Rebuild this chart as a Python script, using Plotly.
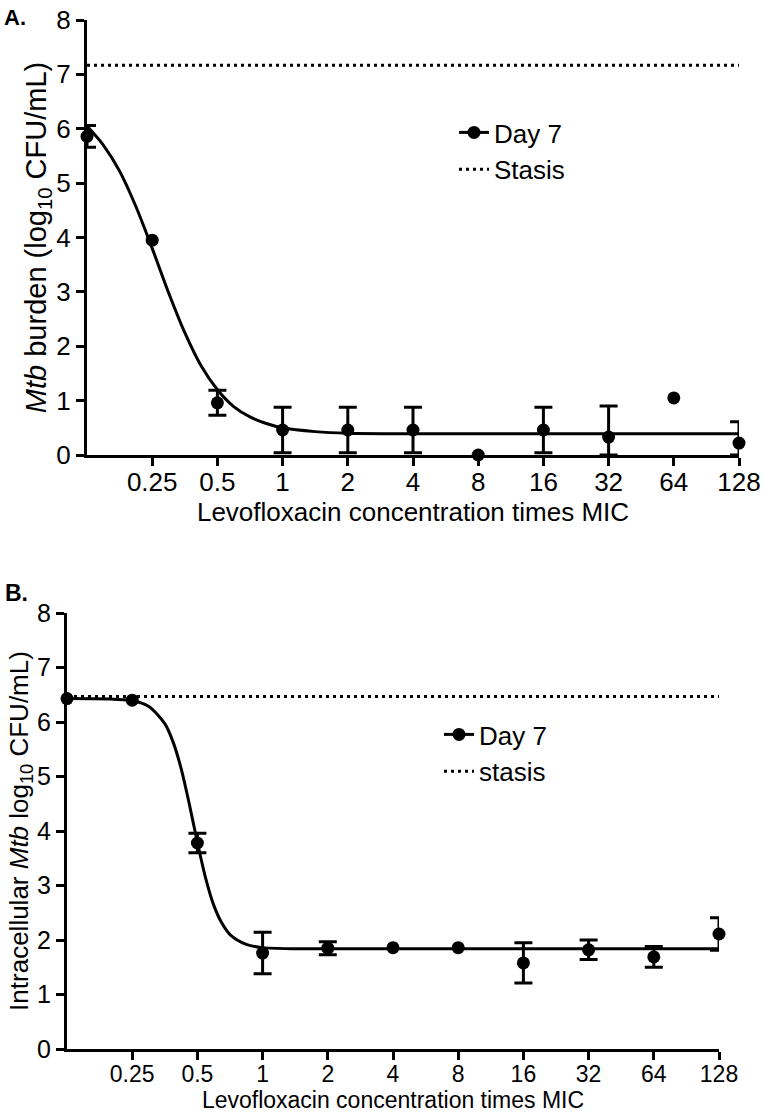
import math
import plotly.graph_objects as go

W, H = 764, 1116
FONT = "Liberation Sans, Arial, sans-serif"

# ---------------- data ----------------
conc = [0.125, 0.25, 0.5, 1, 2, 4, 8, 16, 32, 64, 128]
tick_vals = [0.25, 0.5, 1, 2, 4, 8, 16, 32, 64, 128]
tick_text = ["0.25", "0.5", "1", "2", "4", "8", "16", "32", "64", "128"]
y_ticks = [0, 1, 2, 3, 4, 5, 6, 7, 8]

# Panel A: Mtb burden, day 7
a_mean = [5.86, 3.95, 0.96, 0.46, 0.46, 0.46, 0.0, 0.46, 0.33, 1.05, 0.22]
a_err = [0.20, None, 0.23, 0.42, 0.42, 0.42, None, 0.42, 0.57, None, 0.39]
a_stasis = 7.17
a_fit_x = [0.125, 0.1487, 0.1768, 0.2102, 0.25, 0.2973, 0.3536, 0.4204, 0.5,
           0.5946, 0.7071, 0.8409, 1, 1.4142, 2, 4, 8, 16, 32, 64, 128]
a_fit_y = [6.05, 5.70, 5.22, 4.57, 3.80, 2.99, 2.25, 1.64, 1.20,
           0.89, 0.70, 0.58, 0.50, 0.43, 0.40, 0.39, 0.39, 0.39, 0.39, 0.39, 0.39]

# Panel B: intracellular Mtb, day 7
b_mean = [6.43, 6.40, 3.78, 1.76, 1.85, 1.86, 1.86, 1.58, 1.82, 1.69, 2.11]
b_err = [None, None, 0.18, 0.38, 0.12, None, None, 0.37, 0.18, 0.19, 0.30]
b_stasis = 6.47
b_fit_x = [0.125, 0.25, 0.2973, 0.3536, 0.3855, 0.4204, 0.4585, 0.5, 0.5453,
           0.5946, 0.6484, 0.7071, 0.8409, 1, 1.4142, 2, 4, 8, 16, 32, 64, 128]
b_fit_y = [6.43, 6.39, 6.29, 5.97, 5.64, 5.15, 4.50, 3.79, 3.14,
           2.64, 2.31, 2.10, 1.92, 1.86, 1.84, 1.84, 1.84, 1.84, 1.84, 1.84, 1.84, 1.84]


def px_x(p):
    return p / W


def px_y(p):
    return (H - p) / H


fig = go.Figure()

line_style = dict(color="black", width=3)
marker_style = dict(color="black", size=13, symbol="circle")
dot_style = dict(color="black", width=3, dash="3px,4px")


def add_panel(xa, ya, leg, mean, err, fit_x, fit_y, stasis, stasis_name, clip):
    fig.add_trace(go.Scatter(
        x=fit_x, y=fit_y, mode="lines",
        line=dict(shape="spline", smoothing=0.8, **line_style),
        xaxis=xa, yaxis=ya, showlegend=False, hoverinfo="skip", cliponaxis=False))
    fig.add_trace(go.Scatter(
        x=[conc[0], conc[-1]], y=[stasis, stasis], mode="lines", line=dot_style,
        xaxis=xa, yaxis=ya, showlegend=False, cliponaxis=False))
    # error bars (only points that have them)
    idx = [i for i, e in enumerate(err) if e is not None]
    ex = [conc[i] for i in idx]
    ey = [mean[i] for i in idx]
    eup = [err[i] for i in idx]
    edn = [min(err[i], mean[i]) if clip else err[i] for i in idx]
    fig.add_trace(go.Scatter(
        x=ex, y=ey, mode="markers", marker=dict(size=13, opacity=0, color="black"),
        error_y=dict(type="data", symmetric=False, array=eup, arrayminus=edn,
                     color="black", thickness=3, width=9),
        xaxis=xa, yaxis=ya, showlegend=False, cliponaxis=False, hoverinfo="skip"))
    fig.add_trace(go.Scatter(
        x=conc, y=mean, mode="markers", marker=marker_style,
        xaxis=xa, yaxis=ya, showlegend=False, cliponaxis=False))
    # legend entries
    fig.add_trace(go.Scatter(
        x=[None], y=[None], mode="lines+markers", name="Day 7",
        line=line_style, marker=marker_style, xaxis=xa, yaxis=ya, legend=leg))
    fig.add_trace(go.Scatter(
        x=[None], y=[None], mode="lines", name=stasis_name,
        line=dot_style, xaxis=xa, yaxis=ya, legend=leg))


add_panel("x", "y", "legend", a_mean, a_err, a_fit_x, a_fit_y, a_stasis, "Stasis", True)
add_panel("x2", "y2", "legend2", b_mean, b_err, b_fit_x, b_fit_y, b_stasis, "stasis", False)

xr = [math.log10(conc[0]), math.log10(conc[-1])]


def xaxis(dom, fs_tick, fs_title, standoff, anchor):
    return dict(type="log", range=xr, domain=dom, anchor=anchor,
                tickmode="array", tickvals=tick_vals, ticktext=tick_text,
                ticks="outside", ticklen=8, tickwidth=3, tickcolor="black",
                ticklabelstandoff=-6, ticklabeloverflow="allow",
                showline=True, linewidth=3, linecolor="black",
                showgrid=False, zeroline=False, automargin=False,
                tickfont=dict(family=FONT, size=fs_tick, color="black"),
                title=dict(text="Levofloxacin concentration times MIC",
                           font=dict(family=FONT, size=fs_title, color="black"),
                           standoff=standoff))


def yaxis(dom, fs_tick, title, fs_title, standoff, anchor):
    return dict(range=[0, 8], domain=dom, anchor=anchor,
                tickmode="array", tickvals=y_ticks,
                ticks="outside", ticklen=8, tickwidth=3, tickcolor="black",
                ticklabeloverflow="allow",
                showline=True, linewidth=3, linecolor="black",
                showgrid=False, zeroline=False, automargin=False,
                tickfont=dict(family=FONT, size=fs_tick, color="black"),
                title=dict(text=title, font=dict(family=FONT, size=fs_title, color="black"),
                           standoff=standoff))


fig.update_layout(
    width=W, height=H,
    margin=dict(l=0, r=0, t=0, b=0),
    paper_bgcolor="white", plot_bgcolor="white",
    font=dict(family=FONT, color="black"),
    xaxis=xaxis([px_x(87), px_x(739)], 26, 26, 0, "y"),
    yaxis=yaxis([px_y(455), px_y(20)], 26,
                "<i>Mtb</i> burden (log<sub>10</sub> CFU/mL)", 29, 2, "x"),
    xaxis2=xaxis([px_x(67), px_x(719)], 23, 23, 3, "y2"),
    yaxis2=yaxis([px_y(1049), px_y(613)], 25,
                 "Intracellular <i>Mtb</i> log<sub>10</sub> CFU/mL)", 26, 0, "x2"),
    legend=dict(x=px_x(454), y=px_y(109), xanchor="left", yanchor="top",
                bgcolor="rgba(0,0,0,0)", borderwidth=0,
                font=dict(family=FONT, size=26, color="black")),
    legend2=dict(x=px_x(439), y=px_y(711), xanchor="left", yanchor="top",
                 bgcolor="rgba(0,0,0,0)", borderwidth=0,
                 font=dict(family=FONT, size=26, color="black")),
    annotations=[
        dict(text="<b>A.</b>", x=px_x(2), y=px_y(3), xref="paper", yref="paper",
             xanchor="left", yanchor="top", showarrow=False,
             font=dict(family=FONT, size=22, color="black")),
        dict(text="<b>B.</b>", x=px_x(3), y=px_y(578), xref="paper", yref="paper",
             xanchor="left", yanchor="top", showarrow=False,
             font=dict(family=FONT, size=23, color="black")),
    ],
)

# the page body has a default 8px margin; remove it so the figure fills the window
fig.write_html("out.html", config={"displayModeBar": False},
               post_script="document.body.style.margin='0px';")
